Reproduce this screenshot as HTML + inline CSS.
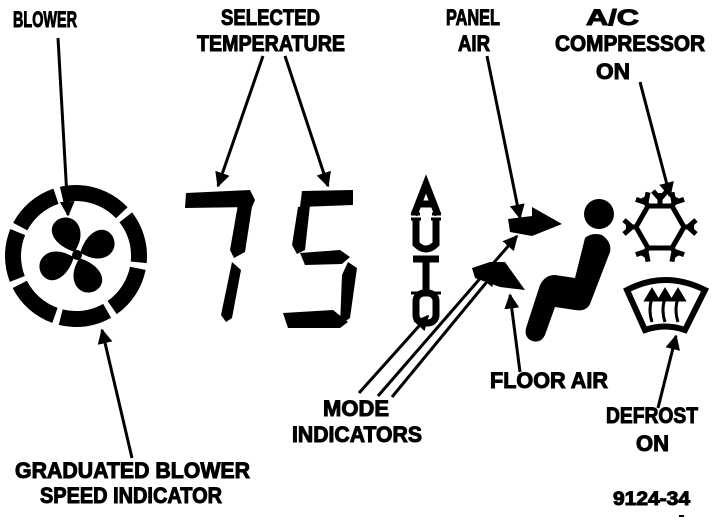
<!DOCTYPE html>
<html><head><style>html,body{margin:0;padding:0;background:#fff}svg{display:block}
text{font-family:"Liberation Sans",sans-serif;font-weight:bold;fill:#000;stroke:#000;stroke-width:1}</style></head>
<body>
<svg width="720" height="524" viewBox="0 0 720 524" xmlns="http://www.w3.org/2000/svg">
<defs>
<marker id="ah" viewBox="0 0 10 10" refX="9" refY="5" markerWidth="5" markerHeight="5" orient="auto"><path d="M0,0L10,5L0,10z"/></marker>
</defs>
<g font-size="22">
<text x="13" y="27" textLength="64" lengthAdjust="spacingAndGlyphs">BLOWER</text>
<text x="221" y="25" textLength="99" lengthAdjust="spacingAndGlyphs">SELECTED</text>
<text x="197" y="51" textLength="148" lengthAdjust="spacingAndGlyphs">TEMPERATURE</text>
<text x="446" y="25" textLength="54" lengthAdjust="spacingAndGlyphs">PANEL</text>
<text x="458" y="51" textLength="32" lengthAdjust="spacingAndGlyphs">AIR</text>
<text x="586" y="25" textLength="53" lengthAdjust="spacingAndGlyphs">A/C</text>
<text x="555" y="51" textLength="150" lengthAdjust="spacingAndGlyphs">COMPRESSOR</text>
<text x="596" y="79" textLength="34" lengthAdjust="spacingAndGlyphs">ON</text>
<text x="15" y="478" textLength="235" lengthAdjust="spacingAndGlyphs">GRADUATED BLOWER</text>
<text x="40" y="503" textLength="182" lengthAdjust="spacingAndGlyphs">SPEED INDICATOR</text>
<text x="323" y="416" textLength="66" lengthAdjust="spacingAndGlyphs">MODE</text>
<text x="292" y="442" textLength="130" lengthAdjust="spacingAndGlyphs">INDICATORS</text>
<text x="490" y="388" textLength="118" lengthAdjust="spacingAndGlyphs">FLOOR AIR</text>
<text x="606" y="423" textLength="92" lengthAdjust="spacingAndGlyphs">DEFROST</text>
<text x="636" y="451" textLength="33" lengthAdjust="spacingAndGlyphs">ON</text>
<text x="613" y="505" font-size="19" textLength="77" lengthAdjust="spacingAndGlyphs">9124-34</text>
</g>
<rect x="679" y="515" width="5" height="2"/>
<g stroke="#000" stroke-width="3" fill="none" marker-end="url(#ah)">
<line x1="58" y1="38" x2="68" y2="215"/>
<line x1="132" y1="458" x2="102" y2="330"/>
<line x1="263" y1="56" x2="218" y2="186"/>
<line x1="285" y1="56" x2="328" y2="186"/>
<line x1="487" y1="56" x2="520" y2="218"/>
<line x1="640" y1="82" x2="670" y2="196"/>
<line x1="520" y1="372" x2="510" y2="295"/>
<line x1="658" y1="408" x2="676" y2="336"/>
<line x1="359" y1="393" x2="428" y2="316"/>
<line x1="378" y1="396" x2="517" y2="236"/>
<line x1="392" y1="397" x2="495" y2="272"/>
</g>
<g fill="none" stroke="#000" stroke-width="16" stroke-dasharray="48 6" transform="rotate(-87 76 256)">
<circle cx="76" cy="256" r="63"/>
</g>
<g transform="translate(77,255)">
<g id="bl"><path d="M-2,-3 C-25,-10 -32,-28 -18,-36 C-5,-42 8,-30 2,-12 Z"/></g>
<use href="#bl" transform="rotate(90)"/><use href="#bl" transform="rotate(180)"/><use href="#bl" transform="rotate(270)"/>
<circle r="5"/>
</g>
<g fill="#000">
<path d="M186,193 L250,190 L255,200 L252,207 L185,208 Z"/>
<path d="M240,193 L253,200 L245,252 L234,258 L230,250 Z"/>
<path d="M232,262 L241,270 L232,318 L226,322 L221,315 Z"/>
<path d="M302,191 L353,190 L353,205 L300,207 Z"/>
<path d="M298,207 L310,205 L305,250 L297,254 L292,245 Z"/>
<path d="M300,253 L340,250 L350,257 L342,264 L305,265 Z"/>
<path d="M348,262 L357,268 L350,318 L340,325 L342,275 Z"/>
<path d="M283,313 L333,310 L348,322 L340,328 L288,328 Z"/>
</g>
<g fill="none" stroke="#000" stroke-width="7">
<path d="M414,215 L426,184 L438,215 M418,204 L434,204"/>
<path d="M416,219 L416,244 Q426,254 436,244 L436,219"/>
<path d="M413,259 L439,259 M426,259 L426,290"/>
<rect x="416" y="293" width="20" height="30" rx="8"/>
</g>
<path d="M411,214h9M432,214h9M411,219h10M431,219h10M411,293h10M431,293h10" stroke="#000" stroke-width="3"/>
<path d="M508,219 L532,216 L532,207 L562,224 L532,236 L510,232 Z"/>
<path d="M472,268 L490,262 L505,262 L525,290 L500,287 L475,278 Z"/>
<circle cx="599" cy="214" r="15"/>
<path d="M585,238 Q592,232 602,235 Q612,242 610,252 L590,304 Q586,312 575,310 L555,307 L545,335 Q540,345 530,340 Q523,335 527,325 L540,285 Q545,275 555,275 L575,278 Z"/>
<g stroke="#000" stroke-width="5" fill="none">
<polygon points="648,206 672,206 684,227 672,248 648,248 636,227"/>
<g transform="translate(660,227)">
<g id="sp"><line x1="0" y1="-22" x2="0" y2="-34"/><line x1="0" y1="-28" x2="-7" y2="-36"/><line x1="0" y1="-28" x2="7" y2="-36"/></g>
<use href="#sp" transform="rotate(90)"/><use href="#sp" transform="rotate(270)"/>
<use href="#sp" transform="rotate(-30)"/><use href="#sp" transform="rotate(150)"/><use href="#sp" transform="rotate(-150)"/><use href="#sp" transform="rotate(30)"/>
</g>
</g>
<path d="M627,290 Q665,270 705,290 L685,330 Q665,323 645,330 Z" fill="none" stroke="#000" stroke-width="6"/>
<g stroke="#000" stroke-width="3" fill="#000">
<path d="M652,322 Q648,310 652,298" fill="none"/><path d="M646,300 L652,290 L658,300 Z"/>
<path d="M665,322 Q661,310 665,298" fill="none"/><path d="M659,300 L665,290 L671,300 Z"/>
<path d="M678,322 Q674,310 678,298" fill="none"/><path d="M672,300 L678,290 L684,300 Z"/>
</g>
</svg>
</body></html>
